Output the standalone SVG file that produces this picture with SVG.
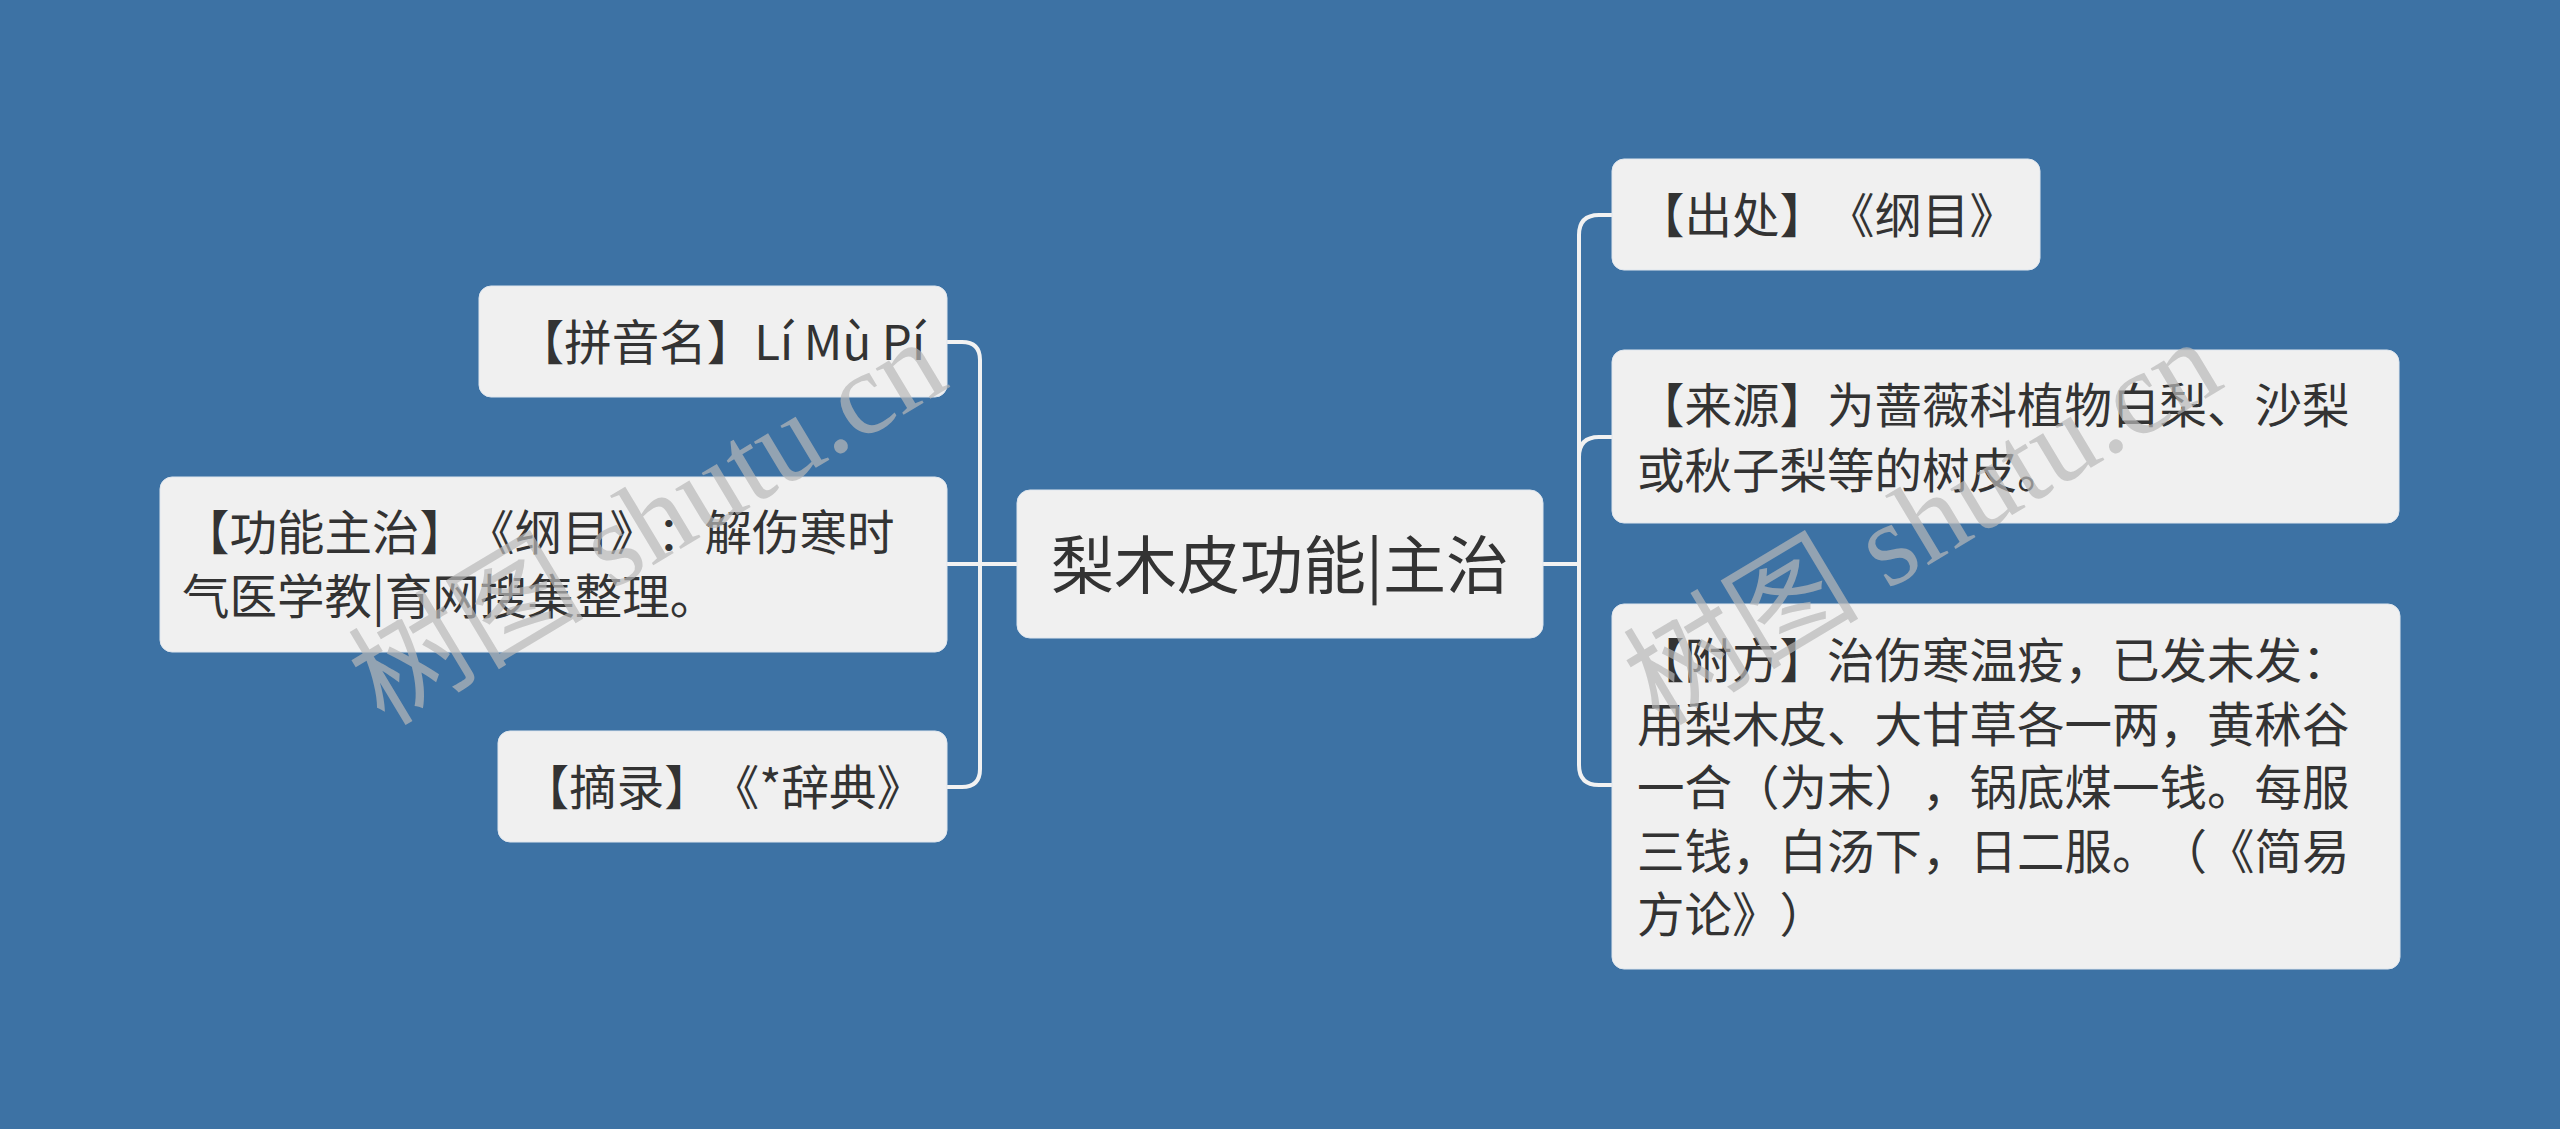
<svg xmlns="http://www.w3.org/2000/svg" width="2560" height="1129" viewBox="0 0 2560 1129">
<style>
.bg{fill:#3d72a4}
.box{fill:#f0f0f0;stroke:#dfe6ee;stroke-width:1}
.t{font-family:"Noto Sans CJK SC","Noto Sans",sans-serif;fill:#333333;font-size:47.5px;text-spacing-trim:space-all;font-kerning:none}
.c{font-size:63px}
.ln{fill:none;stroke:#f2f2f2;stroke-width:4;stroke-linecap:round}
.wm{font-family:"Liberation Serif","Noto Sans CJK SC",serif;font-size:118px;fill:#b8b8b8;fill-opacity:0.7}
</style>
<rect class="bg" x="0" y="0" width="2560" height="1129"/>
<g id="connectors">
<path class="ln" d="M1017,564 H980 V360 Q980,342 962,342 H947"/>
<path class="ln" d="M1017,564 H947"/>
<path class="ln" d="M1017,564 H980 V769 Q980,787 962,787 H947"/>
<path class="ln" d="M1543,564 H1579 V235 Q1579,215 1599,215 H1612"/>
<path class="ln" d="M1543,564 H1579 V457 Q1579,437 1599,437 H1612"/>
<path class="ln" d="M1543,564 H1579 V765 Q1579,785 1599,785 H1612"/>
</g>
<g id="center">
<rect class="box" x="1017" y="490" width="526" height="148" rx="13"/>
<text class="t c" x="1280" y="588" text-anchor="middle">梨木皮功能|主治</text>
</g>
<g id="pinyin">
<rect class="box" x="479" y="286" width="468" height="111" rx="12"/>
<text class="t" x="925" y="360" text-anchor="end">【拼音名】Lí Mù Pí</text>
</g>
<g id="gongneng">
<rect class="box" x="160" y="477" width="787" height="175" rx="12"/>
<text class="t" x="182" y="550">【功能主治】《纲目》：解伤寒时</text>
<text class="t" x="182" y="614">气医学教|育网搜集整理。</text>
</g>
<g id="zhailu">
<rect class="box" x="498" y="731" width="449" height="111" rx="12"/>
<text class="t" x="924" y="805" text-anchor="end">【摘录】《*辞典》</text>
</g>
<g id="chuchu">
<rect class="box" x="1612" y="159" width="428" height="111" rx="12"/>
<text class="t" x="1637" y="233">【出处】《纲目》</text>
</g>
<g id="laiyuan">
<rect class="box" x="1612" y="350" width="787" height="173" rx="12"/>
<text class="t" x="1637" y="423">【来源】为蔷薇科植物白梨、沙梨</text>
<text class="t" x="1637" y="488">或秋子梨等的树皮。</text>
</g>
<g id="fufang">
<rect class="box" x="1612" y="604" width="788" height="365" rx="12"/>
<text class="t" x="1637" y="678">【附方】治伤寒温疫，已发未发：</text>
<text class="t" x="1637" y="741.5">用梨木皮、大甘草各一两，黄秫谷</text>
<text class="t" x="1637" y="805">一合（为末），锅底煤一钱。每服</text>
<text class="t" x="1637" y="868.5">三钱，白汤下，日二服。（《简易</text>
<text class="t" x="1637" y="932">方论》）</text>
</g>
<g id="watermarks">
<text class="wm" x="648" y="562" text-anchor="middle" transform="rotate(-31 648 523)">树图 shutu.cn</text>
<text class="wm" x="1923" y="562" text-anchor="middle" transform="rotate(-31 1923 523)">树图 shutu.cn</text>
</g>
</svg>
